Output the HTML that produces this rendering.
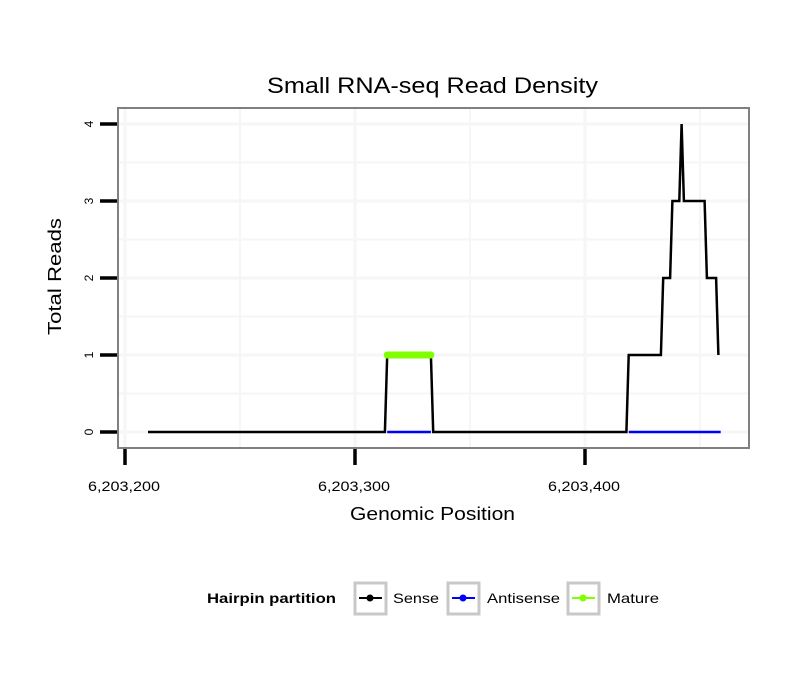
<!DOCTYPE html>
<html><head><meta charset="utf-8"><style>
body{margin:0;background:#fff}
svg text{font-family:"Liberation Sans",sans-serif}
</style></head><body>
<svg id="c" width="810" height="690" xmlns="http://www.w3.org/2000/svg">
<rect width="810" height="690" fill="#fff"/>
<text x="267" y="93" font-size="22" textLength="331" lengthAdjust="spacingAndGlyphs">Small RNA-seq Read Density</text>
<g id="grid"></g>
<g id="series"></g>
<rect x="118" y="108" width="631" height="340" fill="none" stroke="#808080" stroke-width="2"/>
<g id="axes"></g>
<text x="350" y="520" font-size="18" textLength="165" lengthAdjust="spacingAndGlyphs">Genomic Position</text>
<text transform="translate(61,335) rotate(-90)" font-size="18" textLength="117" lengthAdjust="spacingAndGlyphs">Total Reads</text>
<g>
<text x="207" y="603" font-size="14" font-weight="bold" textLength="129" lengthAdjust="spacingAndGlyphs">Hairpin partition</text>
<g>
<rect x="355" y="583" width="31" height="31" fill="#fff" stroke="#c8c8c8" stroke-width="3"/>
<line x1="359" y1="598" x2="382" y2="598" stroke="#000" stroke-width="2"/><circle cx="370" cy="598" r="3.5" fill="#000"/>
<text x="393" y="603" font-size="14" textLength="46" lengthAdjust="spacingAndGlyphs">Sense</text></g>
<g>
<rect x="448" y="583" width="31" height="31" fill="#fff" stroke="#c8c8c8" stroke-width="3"/>
<line x1="452" y1="598" x2="475" y2="598" stroke="#0000ff" stroke-width="2"/><circle cx="463" cy="598" r="3.5" fill="#0000ff"/>
<text x="487" y="603" font-size="14" textLength="73" lengthAdjust="spacingAndGlyphs">Antisense</text></g>
<g>
<rect x="568" y="583" width="31" height="31" fill="#fff" stroke="#c8c8c8" stroke-width="3"/>
<line x1="572" y1="598" x2="595" y2="598" stroke="#7fff00" stroke-width="2"/><circle cx="583" cy="598" r="3.5" fill="#7fff00"/>
<text x="607" y="603" font-size="14" textLength="52" lengthAdjust="spacingAndGlyphs">Mature</text></g>
</g>
</svg>
<script>
const senseX=[6203210,6203313,6203314,6203333,6203334,6203418,6203419,6203433,6203434,6203437,6203438,6203441,6203442,6203443,6203452,6203453,6203457,6203458];
const senseY=[0,0,1,1,0,0,1,1,2,2,3,3,4,3,3,2,2,1];
const antiSegments=[[6203314,6203333],[6203419,6203459]];
const antiY=[0,0];
const matureX=[6203314,6203333];
const matureY=[1,1];
const xTicks=[6203200,6203300,6203400];
const xTickLabels=["6,203,200","6,203,300","6,203,400"];
const yTicks=[0,1,2,3,4];

const sx=v=>125+(v-6203200)*2.3;
const sy=v=>432-v*77;
const NS="http://www.w3.org/2000/svg";
function mk(tag,attrs,parent){const e=document.createElementNS(NS,tag);for(const k in attrs)e.setAttribute(k,attrs[k]);parent.appendChild(e);return e;}
const grid=document.getElementById('grid'),ser=document.getElementById('series'),axes=document.getElementById('axes');
for(let v=6203200;v<=6203450;v+=50){const x=sx(v);if(x<119)continue;
 const l=mk('line',{x1:x,x2:x,y1:109,y2:447,stroke:'#f6f6f6','stroke-width':v%100===0?3:2},grid);
 
 }
for(let v=0;v<=4.4;v+=0.5){const y=sy(v);
 const l=mk('line',{x1:119,x2:748,y1:y,y2:y,stroke:'#f6f6f6','stroke-width':Number.isInteger(v)?3:2},grid);
 
 }
antiSegments.forEach((s,i)=>{
 const p=mk('polyline',{points:s.map((x,j)=>sx(x)+','+sy(antiY[j])).join(' '),fill:'none',stroke:'#0000ff','stroke-width':2.5},ser);
 
 });
let seg=[];
senseX.forEach((x,i)=>seg.push(sx(x)+','+sy(senseY[i])));
const sp=mk('polyline',{points:seg.join(' '),fill:'none',stroke:'#000','stroke-width':2.5},ser);


const mp=mk('polyline',{points:matureX.map((x,i)=>sx(x)+','+sy(matureY[i])).join(' '),fill:'none',stroke:'#7fff00','stroke-width':7,'stroke-linecap':'round'},ser);


xTicks.forEach((v,i)=>{const x=sx(v);
 const t=mk('line',{x1:x,x2:x,y1:449,y2:465,stroke:'#000','stroke-width':3.5},axes);
 
 
 const tx=mk('text',{x:x-37,y:491,'font-size':14,textLength:72,lengthAdjust:'spacingAndGlyphs'},axes);tx.textContent=xTickLabels[i];
 
 });
yTicks.forEach(v=>{const y=sy(v);
 const t=mk('line',{x1:100,x2:117,y1:y,y2:y,stroke:'#000','stroke-width':3.5},axes);
 
 
 const tx=mk('text',{transform:`translate(93,${y}) rotate(-90)`,'font-size':12,'text-anchor':'middle'},axes);tx.textContent=v;
 
 });
</script>
</body></html>
